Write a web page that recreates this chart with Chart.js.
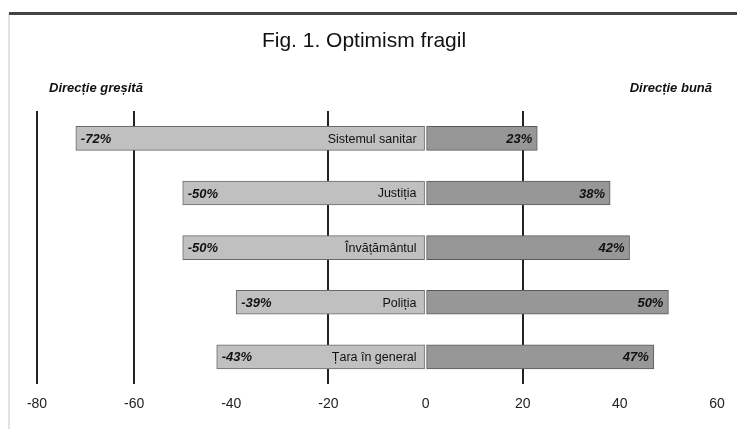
<!DOCTYPE html>
<html>
<head>
<meta charset="utf-8">
<script src="https://cdn.jsdelivr.net/npm/chart.js@4/dist/chart.umd.min.js"></script>
<style>
  html, body { margin: 0; padding: 0; background: #fff; }
  #wrap { width: 737px; height: 429px; position: relative; }
</style>
</head>
<body>
<div id="wrap"><canvas id="fig1" width="737" height="429"></canvas></div>
<script>
const categories = ['Sistemul sanitar', 'Justiția', 'Învățământul', 'Poliția', 'Țara în general'];
const wrongDirection = [-72, -50, -50, -39, -43];
const rightDirection = [23, 38, 42, 50, 47];
const xTickLabels = ['-80', '-60', '-40', '-20', '0', '20', '40', '60'];
const gridValues = [-80, -60, -20, 20];

const FONT = '"Liberation Sans", Arial, sans-serif';

const decorations = {
  id: 'decorations',
  beforeDraw(chart) {
    const c = chart.ctx;
    c.save();
    // frame
    c.fillStyle = '#e2e2e2';
    c.fillRect(8, 13, 2, 416);
    c.fillStyle = '#444';
    c.fillRect(9, 12, 728, 3);
    // title
    c.fillStyle = '#111';
    c.textBaseline = 'middle';
    c.textAlign = 'center';
    c.font = '21px ' + FONT;
    c.fillText('Fig. 1. Optimism fragil', 364, 41);
    c.font = 'italic bold 13px ' + FONT;
    c.textAlign = 'left';
    c.fillText('Direcție greșită', 49, 88);
    c.textAlign = 'right';
    c.fillText('Direcție bună', 712, 88);
    c.restore();
  },
  afterDatasetsDraw(chart) {
    const c = chart.ctx;
    const x0 = chart.scales.x.getPixelForValue(0);
    c.save();
    c.fillStyle = '#111';
    c.textBaseline = 'middle';
    chart.data.datasets.forEach((ds, di) => {
      chart.getDatasetMeta(di).data.forEach((bar, i) => {
        const v = ds.data[i];
        c.font = 'italic bold 13px ' + FONT;
        if (v < 0) {
          c.textAlign = 'left';
          c.fillText(v + '%', bar.x + 5, bar.y + 1);
        } else {
          c.textAlign = 'right';
          c.fillText(v + '%', bar.x - 5, bar.y + 1);
        }
      });
    });
    c.font = '12.5px ' + FONT;
    c.textAlign = 'right';
    categories.forEach((cat, i) => {
      c.fillText(cat, x0 - 9, chart.scales.y.getPixelForValue(i) + 1);
    });
    c.restore();
  }
};

new Chart(document.getElementById('fig1'), {
  type: 'bar',
  data: {
    labels: categories,
    datasets: [
      {
        label: 'Direcție greșită',
        data: wrongDirection,
        backgroundColor: '#c0c0c0',
        borderColor: '#6a6a6a',
        borderWidth: 1,
        borderSkipped: false,
        barThickness: 24
      },
      {
        label: 'Direcție bună',
        data: rightDirection,
        backgroundColor: '#979797',
        borderColor: '#5a5a5a',
        borderWidth: 1,
        borderSkipped: false,
        barThickness: 24
      }
    ]
  },
  options: {
    indexAxis: 'y',
    responsive: false,
    animation: false,
    layout: { padding: { left: 37, right: 20, top: 111, bottom: 4 } },
    plugins: {
      legend: { display: false },
      tooltip: { enabled: false }
    },
    scales: {
      x: {
        stacked: true,
        min: -80,
        max: 60,
        border: { display: false },
        grid: {
          drawTicks: false,
          lineWidth: 2,
          color: (ctx) => (ctx.tick && gridValues.includes(ctx.tick.value)) ? '#222' : 'rgba(0,0,0,0)'
        },
        ticks: {
          stepSize: 20,
          padding: 12,
          color: '#222',
          font: { family: FONT, size: 14 },
          callback: (v, i) => xTickLabels[i]
        }
      },
      y: {
        stacked: true,
        display: false
      }
    }
  },
  plugins: [decorations]
});
</script>
</body>
</html>
